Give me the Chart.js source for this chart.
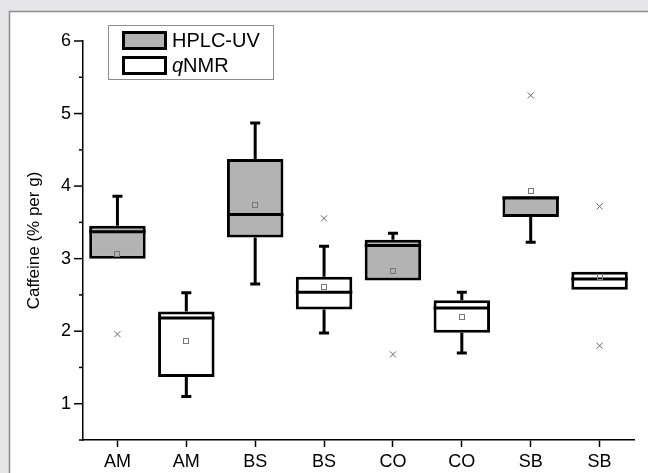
<!DOCTYPE html>
<html>
<head>
<meta charset="utf-8">
<script src="https://cdn.jsdelivr.net/npm/chart.js@4/dist/chart.umd.min.js"></script>
<style>
  html, body { margin: 0; padding: 0; background: #e6e6e8; overflow: hidden; }
  #wrap { width: 648px; height: 473px; }
  canvas { display: block; }
</style>
</head>
<body>
<div id="wrap"><canvas id="chart" width="648" height="473"></canvas></div>
<script>
// one entry per box, left to right
const categories = ["AM", "AM", "BS", "BS", "CO", "CO", "SB", "SB"];
const methods = ["HPLC-UV", "qNMR", "HPLC-UV", "qNMR", "HPLC-UV", "qNMR", "HPLC-UV", "qNMR"];
const q1 = [3.00, 1.37, 3.29, 2.30, 2.70, 1.98, 3.575, 2.57];
const q3 = [3.455, 2.27, 4.375, 2.75, 3.26, 2.425, 3.86, 2.82];
const medians = [3.37, 2.18, 3.61, 2.535, 3.18, 2.32, 3.835, 2.72];
const means = [3.07, 1.87, 3.735, 2.61, 2.83, 2.195, 3.93, 2.745];
const whiskerLow = [3.00, 1.10, 2.65, 1.975, 2.70, 1.70, 3.225, 2.57];
const whiskerHigh = [3.86, 2.53, 4.87, 3.17, 3.35, 2.535, 3.86, 2.82];
const outliers = [[1.96], [], [], [3.555], [1.68], [], [5.25], [3.72, 1.80]];

const yTicks = [1, 2, 3, 4, 5, 6];
const methodNames = ["HPLC-UV", "qNMR"];
const methodFill = { "HPLC-UV": "#b3b3b3", "qNMR": "#ffffff" };
const FONT = "'Liberation Sans', Arial, sans-serif";

const panelPlugin = {
  id: "panel",
  beforeDraw(chart) {
    const c = chart.ctx;
    c.save();
    c.fillStyle = "#e6e6e8";
    c.fillRect(0, 0, chart.width, chart.height);
    c.fillStyle = "#ffffff";
    c.fillRect(9, 11, chart.width - 9, chart.height - 11);
    c.strokeStyle = "#8c8c8c";
    c.lineWidth = 1.5;
    c.beginPath();
    c.moveTo(9.5, chart.height);
    c.lineTo(9.5, 11.5);
    c.lineTo(chart.width, 11.5);
    c.stroke();
    c.restore();
  }
};

const boxPlugin = {
  id: "boxParts",
  afterDatasetsDraw(chart) {
    const c = chart.ctx;
    const ys = chart.scales.y;
    const area = chart.chartArea;
    const meta = chart.getDatasetMeta(0);
    c.save();
    c.lineCap = "butt";

    categories.forEach((cat, i) => {
      const bar = meta.data[i];
      const x = bar.x, half = bar.width / 2;
      const py = v => ys.getPixelForValue(v);

      c.strokeStyle = "#000";
      c.lineWidth = 3;
      // whiskers + caps
      if (whiskerHigh[i] > q3[i]) {
        c.beginPath();
        c.moveTo(x, py(q3[i]));
        c.lineTo(x, py(whiskerHigh[i]));
        c.moveTo(x - 5, py(whiskerHigh[i]));
        c.lineTo(x + 5, py(whiskerHigh[i]));
        c.stroke();
      }
      if (whiskerLow[i] < q1[i]) {
        c.beginPath();
        c.moveTo(x, py(q1[i]));
        c.lineTo(x, py(whiskerLow[i]));
        c.moveTo(x - 5, py(whiskerLow[i]));
        c.lineTo(x + 5, py(whiskerLow[i]));
        c.stroke();
      }
      // median
      c.beginPath();
      c.moveTo(x - half, py(medians[i]));
      c.lineTo(x + half, py(medians[i]));
      c.stroke();

      // mean square
      c.strokeStyle = "#777";
      c.lineWidth = 1;
      const my = Math.round(py(means[i])) + 0.5;
      c.strokeRect(Math.round(x) - 2.5, my - 3, 5, 5);

      // outliers
      c.strokeStyle = "#666";
      c.lineWidth = 1;
      outliers[i].forEach(v => {
        const oy = py(v);
        c.beginPath();
        c.moveTo(x - 3, oy - 3); c.lineTo(x + 3, oy + 3);
        c.moveTo(x + 3, oy - 3); c.lineTo(x - 3, oy + 3);
        c.stroke();
      });
    });

    // y-axis ticks: long at integers, short at halves
    c.strokeStyle = "#000";
    c.lineWidth = 1.5;
    ys.ticks.forEach(t => {
      const y = ys.getPixelForValue(t.value);
      const len = Number.isInteger(t.value) ? 9 : 4;
      c.beginPath();
      c.moveTo(area.left - len, y);
      c.lineTo(area.left, y);
      c.stroke();
    });
    c.restore();
  },
  afterDraw(chart) {
    // legend box in the upper left of the plot
    const c = chart.ctx;
    c.save();
    c.fillStyle = "#fff";
    c.fillRect(108, 25, 165, 54);
    c.strokeStyle = "#8c8c8c";
    c.lineWidth = 1;
    c.strokeRect(108.5, 25.5, 165, 54);
    methodNames.forEach((name, k) => {
      const top = 31 + k * 25;
      c.fillStyle = methodFill[name];
      c.fillRect(122, top, 44, 18);
      c.strokeStyle = "#000";
      c.lineWidth = 3;
      c.strokeRect(123.5, top + 1.5, 42, 16);
      c.fillStyle = "#000";
      c.textBaseline = "middle";
      c.textAlign = "left";
      const ty = top + 10;
      if (name === "qNMR") {
        c.font = "italic 20px " + FONT;
        c.fillText("q", 172, ty);
        const w = c.measureText("q").width;
        c.font = "20px " + FONT;
        c.fillText("NMR", 172 + w, ty);
      } else {
        c.font = "20px " + FONT;
        c.fillText(name, 172, ty);
      }
    });
    c.restore();
  }
};

new Chart(document.getElementById("chart"), {
  type: "bar",
  data: {
    labels: categories,
    datasets: [{
      label: "boxes",
      data: categories.map((c, i) => [q1[i], q3[i]]),
      backgroundColor: methods.map(m => methodFill[m]),
      borderColor: "#000",
      borderWidth: 3,
      borderSkipped: false,
      barPercentage: 0.82,
      categoryPercentage: 1
    }]
  },
  options: {
    responsive: false,
    animation: false,
    devicePixelRatio: 1,
    layout: { padding: { top: 41, right: 14, bottom: 0, left: 0 } },
    plugins: { legend: { display: false }, tooltip: { enabled: false } },
    scales: {
      x: {
        offset: true,
        afterFit(s) { s.height = 33; },
        grid: { display: true, drawOnChartArea: false, drawTicks: true, tickLength: 7, tickColor: "#000", tickWidth: 1.5, offset: false },
        border: { display: true, color: "#000", width: 1.5 },
        ticks: { color: "#000", font: { size: 18, family: FONT }, padding: 4, autoSkip: false, maxRotation: 0 }
      },
      y: {
        min: 0.5,
        max: 6,
        afterFit(s) { s.width = 83; },
        afterBuildTicks(s) {
          s.ticks = [];
          for (let v = 0.5; v <= 6; v += 0.5) s.ticks.push({ value: v });
        },
        grid: { display: true, drawOnChartArea: false, drawTicks: false },
        border: { display: true, color: "#000", width: 1.5 },
        ticks: {
          color: "#000",
          font: { size: 18, family: FONT },
          padding: 12,
          callback: v => (yTicks.includes(v) ? String(v) : "")
        },
        title: {
          display: true,
          text: "Caffeine (% per g)",
          color: "#000",
          font: { size: 17, family: FONT },
          padding: { top: 24, bottom: 0 }
        }
      }
    }
  },
  plugins: [panelPlugin, boxPlugin]
});
</script>
</body>
</html>
